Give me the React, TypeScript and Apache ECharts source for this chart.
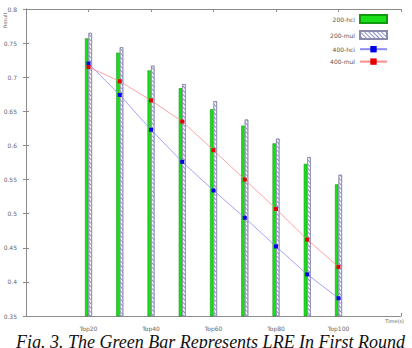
import React, { useEffect, useRef } from "react";
import * as echarts from "echarts";

// Top-k positions on the x axis
const topK = [20, 30, 40, 50, 60, 70, 80, 90, 100];
const xTicks = [20, 40, 60, 80, 100];

// Bar series
const hci200 = [0.757, 0.736, 0.710, 0.684, 0.653, 0.629, 0.603, 0.573, 0.543];
const mul200 = [0.765, 0.744, 0.717, 0.690, 0.665, 0.638, 0.610, 0.583, 0.557];

// Line series
const hci400 = [0.720, 0.674, 0.623, 0.576, 0.534, 0.494, 0.452, 0.411, 0.376];
const mul400 = [0.715, 0.694, 0.666, 0.635, 0.593, 0.550, 0.507, 0.462, 0.422];

const yTicks = [0.35, 0.4, 0.45, 0.5, 0.55, 0.6, 0.65, 0.7, 0.75, 0.8];

const FONT = "DejaVu Sans";
const AXIS_COLOR = "#8c8c8c";
const LABEL_COLOR = "#666";

export default function App() {
  const ref = useRef<HTMLDivElement>(null);

  useEffect(() => {
    if (!ref.current) return;
    const chart = echarts.init(ref.current, undefined, { renderer: "svg" });

    const pairs = (vals: number[]) => topK.map((k, i) => [k, vals[i]]);
    const yMin = yTicks[0];
    const yMax = yTicks[yTicks.length - 1];

    const axisLine = { show: true, lineStyle: { color: AXIS_COLOR, width: 1 } };
    const tick = { show: true, inside: true, length: 3, lineStyle: { color: AXIS_COLOR } };

    chart.setOption({
      animation: false,
      backgroundColor: "#ffffff",
      grid: { left: 26, right: 11, top: 9, bottom: 32 },
      legend: {
        orient: "vertical",
        right: 19,
        top: 9,
        align: "right",
        itemWidth: 27,
        itemHeight: 8,
        itemGap: 6,
        textStyle: { fontFamily: FONT, fontSize: 6, color: "#555" },
        data: [
          { name: "200-hci", icon: "rect" },
          { name: "200-mul", icon: "rect" },
          { name: "400-hci" },
          { name: "400-mul" },
        ],
      },
      xAxis: [
        {
          type: "value",
          position: "bottom",
          min: 0,
          max: 120,
          interval: 20,
          splitLine: { show: false },
          axisLine,
          axisTick: tick,
          axisLabel: {
            fontFamily: FONT,
            fontSize: 6,
            color: LABEL_COLOR,
            margin: 9,
            formatter: (v: number) => (xTicks.includes(v) ? "Top" + v : ""),
          },
        },
        {
          type: "value",
          position: "top",
          min: 0,
          max: 120,
          interval: 20,
          splitLine: { show: false },
          axisLine,
          axisTick: tick,
          axisLabel: { show: false },
        },
      ],
      yAxis: [
        {
          type: "value",
          position: "left",
          min: yMin,
          max: yMax,
          interval: 0.05,
          splitLine: { show: false },
          axisLine,
          axisTick: tick,
          axisLabel: {
            fontFamily: FONT,
            fontSize: 6,
            color: LABEL_COLOR,
            margin: 9,
            formatter: (v: number) => String(parseFloat(v.toFixed(2))),
          },
        },
        {
          type: "value",
          position: "right",
          min: yMin,
          max: yMax,
          interval: 0.05,
          splitLine: { show: false },
          axisLine,
          axisTick: tick,
          axisLabel: { show: false },
        },
      ],
      series: [
        {
          name: "200-hci",
          type: "bar",
          barWidth: 3.5,
          barGap: "0%",
          data: pairs(hci200),
          itemStyle: { color: "#19e019", borderColor: "#0f9a0f", borderWidth: 0.6 },
        },
        {
          name: "200-mul",
          type: "bar",
          barWidth: 3.5,
          barGap: "0%",
          data: pairs(mul200),
          itemStyle: {
            color: "#ffffff",
            borderColor: "#8a8aaa",
            borderWidth: 0.7,
            decal: {
              symbol: "rect",
              symbolSize: 1,
              dashArrayX: [[1, 0]],
              dashArrayY: [1, 2],
              rotation: Math.PI / 4,
              color: "#8f8fd0",
            },
          },
        },
        {
          name: "400-hci",
          type: "line",
          data: pairs(hci400),
          symbol: "rect",
          symbolSize: 4,
          lineStyle: { color: "#8c8cff", width: 0.8 },
          itemStyle: { color: "#0000e6" },
          z: 5,
        },
        {
          name: "400-mul",
          type: "line",
          data: pairs(mul400),
          symbol: "rect",
          symbolSize: 4,
          lineStyle: { color: "#ff8c8c", width: 0.8 },
          itemStyle: { color: "#e60000" },
          z: 5,
        },
      ],
      graphic: [
        {
          type: "text",
          x: 2,
          y: 28,
          rotation: Math.PI / 2,
          style: { text: "Result", fontFamily: FONT, fontSize: 5, fill: LABEL_COLOR },
        },
        {
          type: "text",
          x: 404,
          y: 318,
          style: { text: "Time(s)", fontFamily: FONT, fontSize: 5, fill: LABEL_COLOR, align: "right" },
        },
        {
          type: "text",
          x: 16,
          y: 351,
          style: {
            text: "Fig. 3. The Green Bar Represents LRE In First Round",
            fontFamily: "Liberation Serif",
            fontStyle: "italic",
            fontSize: 18,
            fill: "#111",
            verticalAlign: "bottom",
          },
        },
      ],
    });

    return () => chart.dispose();
  }, []);

  return (
    <div
      ref={ref}
      style={{ position: "fixed", left: 0, top: 0, width: 412, height: 348, background: "#fff" }}
    />
  );
}
